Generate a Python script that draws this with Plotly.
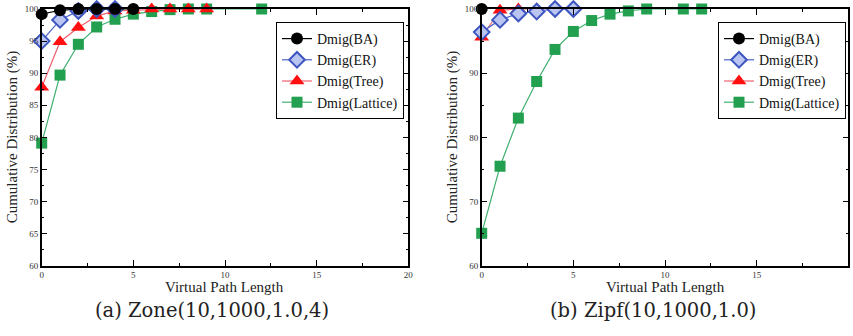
import plotly.graph_objects as go

# ---- data: (a) Zone(10,1000,1.0,4) ----
a_ba_x = [0, 1, 2, 3, 4, 5]
a_ba_y = [99.2, 99.8, 100, 100, 100, 100]
a_er_x = [0, 1, 2, 3, 4]
a_er_y = [95.0, 98.3, 99.7, 100, 100]
a_tree_x = [0, 1, 2, 3, 4, 5, 6, 7, 8, 9]
a_tree_y = [87.8, 94.9, 97.1, 98.9, 99.7, 99.8, 100, 100, 100, 100]
a_lat_x = [0, 1, 2, 3, 4, 5, 6, 7, 8, 9, 12]
a_lat_y = [79.1, 89.7, 94.5, 97.2, 98.4, 99.2, 99.6, 99.9, 100, 100, 100]

# ---- data: (b) Zipf(10,1000,1.0) ----
b_ba_x = [0]
b_ba_y = [100]
b_er_x = [0, 1, 2, 3, 4, 5]
b_er_y = [96.4, 98.3, 99.3, 99.6, 100, 100]
b_tree_x = [0, 1, 2, 3]
b_tree_y = [95.6, 99.8, 100, 100]
b_lat_x = [0, 1, 2, 3, 4, 5, 6, 7, 8, 9, 11, 12]
b_lat_y = [65.05, 75.5, 83.0, 88.7, 93.7, 96.5, 98.2, 99.2, 99.7, 100, 100, 100]

names = ["Dmig(BA)", "Dmig(ER)", "Dmig(Tree)", "Dmig(Lattice)"]
captions = ["(a) Zone(10,1000,1.0,4)", "(b) Zipf(10,1000,1.0)"]
xtitle = "Virtual Path Length"
ytitle = "Cumulative Distribution (%)"

SERIF = "'Liberation Serif', 'Times New Roman', Times, serif"
CAPFONT = "'DejaVu Serif', serif"

W, H = 853, 336


def px(x):
    return x / W


def py(y):
    return 1 - y / H


styles = [
    dict(line=dict(color="black", width=1.2),
         marker=dict(symbol="circle", size=12, color="black", line=dict(color="black", width=0))),
    dict(line=dict(color="#4a62c8", width=1.2),
         marker=dict(symbol="diamond", size=12, color="#b9c4f0", line=dict(color="#3d55c0", width=2))),
    dict(line=dict(color="#f06070", width=1.2),
         marker=dict(symbol="triangle-up", size=13, color="#ff1010", line=dict(color="#ff1010", width=0))),
    dict(line=dict(color="#40b070", width=1.2),
         marker=dict(symbol="square", size=11, color="#22a050", line=dict(color="#22a050", width=0))),
]

fig = go.Figure()
panels = [
    ([(a_ba_x, a_ba_y), (a_er_x, a_er_y), (a_tree_x, a_tree_y), (a_lat_x, a_lat_y)], "x", "y", "legend"),
    ([(b_ba_x, b_ba_y), (b_er_x, b_er_y), (b_tree_x, b_tree_y), (b_lat_x, b_lat_y)], "x2", "y2", "legend2"),
]
for series, xa, ya, lg in panels:
    for i in [3, 2, 1, 0]:
        xs, ys = series[i]
        fig.add_trace(go.Scatter(
            x=xs, y=ys, mode="lines+markers", name=names[i],
            xaxis=xa, yaxis=ya, legend=lg, cliponaxis=False,
            legendrank=i, **styles[i]))

ydom = [py(265.7), py(9)]
xdom1 = [px(41.7), px(408.3)]
xdom2 = [px(481.7), px(848.3)]


def xaxis(dom, anchor):
    return dict(domain=dom, anchor=anchor, range=[0, 20], tickvals=[0, 5, 10, 15, 20],
                ticks="inside", ticklen=6, tickwidth=1, tickcolor="black",
                minor=dict(tickvals=[2.5, 7.5, 12.5, 17.5], ticks="inside", ticklen=3, tickcolor="black"),
                showline=True, linecolor="black", linewidth=1.5, mirror="allticks",
                showgrid=False, zeroline=False, automargin=False,
                tickfont=dict(family=SERIF, size=9, color="#333"))


def yaxis(anchor, vals, mvals):
    return dict(domain=ydom, anchor=anchor, range=[60, 100], tickvals=vals,
                ticks="inside", ticklen=6, tickwidth=1, tickcolor="black",
                minor=dict(tickvals=mvals, ticks="inside", ticklen=3, tickcolor="black"),
                showline=True, linecolor="black", linewidth=1.5, mirror="allticks",
                showgrid=False, zeroline=False, automargin=False,
                tickfont=dict(family=SERIF, size=9, color="#333"))


legend_common = dict(bgcolor="white", bordercolor="black", borderwidth=1,
                     font=dict(family=SERIF, size=14, color="#111"),
                     xanchor="right", yanchor="top", y=py(22),
                     tracegroupgap=0, traceorder="normal", itemwidth=30)

fig.update_layout(
    template="none",
    width=W, height=H, margin=dict(l=0, r=0, t=0, b=0, autoexpand=False),
    paper_bgcolor="white", plot_bgcolor="white",
    xaxis=xaxis(xdom1, "y"),
    yaxis=yaxis("x", [60, 65, 70, 75, 80, 85, 90, 95, 100],
                [62.5, 67.5, 72.5, 77.5, 82.5, 87.5, 92.5, 97.5]),
    xaxis2=xaxis(xdom2, "y2"),
    yaxis2=yaxis("x2", [60, 70, 80, 90, 100], [65, 75, 85, 95]),
    legend=dict(x=px(404), **legend_common),
    legend2=dict(x=px(846), **legend_common),
    showlegend=True,
)

for cx, ty, capx, cap in [(225, 12, 212, captions[0]),
                          (665, 452, 653, captions[1])]:
    fig.add_annotation(x=px(cx), y=py(287), xref="paper", yref="paper", text=xtitle,
                       xanchor="center", yanchor="middle",
                       showarrow=False, font=dict(family=SERIF, size=15, color="#222"))
    fig.add_annotation(x=px(ty), y=(ydom[0] + ydom[1]) / 2, xref="paper", yref="paper", text=ytitle,
                       xanchor="center", yanchor="middle",
                       textangle=-90, showarrow=False, font=dict(family=SERIF, size=15, color="#222"))
    fig.add_annotation(x=px(capx), y=py(310), xref="paper", yref="paper", text=cap,
                       xanchor="center", yanchor="middle",
                       showarrow=False, font=dict(family=CAPFONT, size=19.5, color="#222"))

fig.write_html("out.html", config={"displayModeBar": False},
               post_script="document.body.style.margin='0';document.body.style.padding='0';")
